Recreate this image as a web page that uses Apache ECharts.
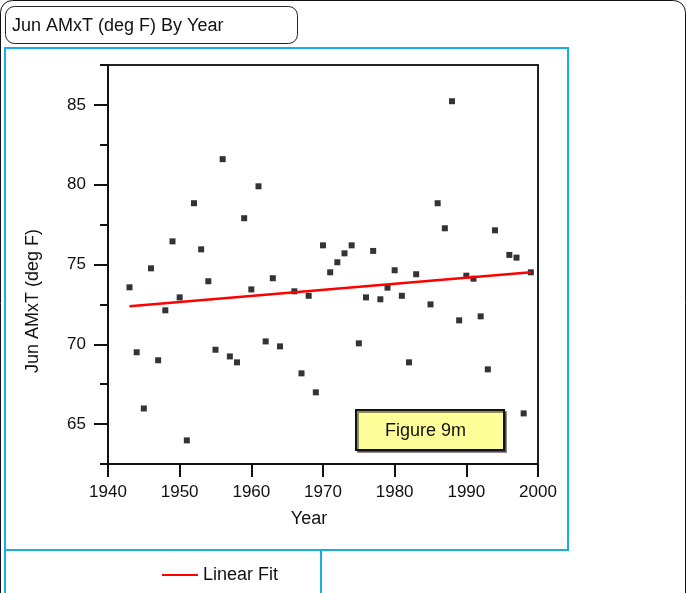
<!DOCTYPE html>
<html>
<head>
<meta charset="utf-8">
<script src="https://cdn.jsdelivr.net/npm/echarts@6/dist/echarts.min.js"></script>
<style>
  html, body { margin: 0; padding: 0; background: #fff; }
  #chart { width: 686px; height: 593px; }
</style>
</head>
<body>
<div id="chart"></div>
<script>
// ---- data ----
const years = [1943,1944,1945,1946,1947,1948,1949,1950,1951,1952,1953,1954,1955,1956,1957,1958,1959,1960,1961,1962,1963,1964,
               1966,1967,1968,1969,1970,1971,1972,1973,1974,1975,1976,1977,1978,1979,1980,1981,1982,1983,
               1985,1986,1987,1988,1989,1990,1991,1992,1993,1994,1996,1997,1998,1999];
const amxt = [73.57,69.5,65.98,74.76,69.0,72.13,76.45,72.94,63.98,78.84,75.95,73.95,69.66,81.6,69.24,68.87,77.9,73.44,79.9,70.18,74.14,69.87,
              73.32,68.18,73.04,66.99,76.2,74.51,75.14,75.7,76.2,70.06,72.94,75.85,72.82,73.55,74.64,73.04,68.87,74.39,
              72.5,78.84,77.27,85.23,71.5,74.3,74.11,71.75,68.43,77.14,75.6,75.43,65.67,74.51];
const fitYears = [1943, 1999];
const fitValues = [72.39, 74.51];
const xTicks = [1940, 1950, 1960, 1970, 1980, 1990, 2000];
const yMajorTicks = [65, 70, 75, 80, 85];

const FONT = '"Liberation Sans", Arial, sans-serif';
const INK = '#111';
const BLUE = '#1aace6';

const chart = echarts.init(document.getElementById('chart'), null, { renderer: 'canvas' });

const scatterData = years.map((y, i) => [y, amxt[i]]);
const fitData = fitYears.map((y, i) => [y, fitValues[i]]);

chart.setOption({
  animation: false,
  backgroundColor: '#fff',
  textStyle: { fontFamily: FONT },
  grid: {
    left: 108, top: 65, right: 148, bottom: 129,
    containLabel: false,
    outerBoundsMode: 'none',
    show: true, borderColor: '#222', borderWidth: 2, backgroundColor: 'transparent'
  },
  legend: {
    left: 162, top: 566, padding: 0,
    itemWidth: 36, itemHeight: 2,
    textStyle: { fontSize: 18, color: INK, fontFamily: FONT },
    data: [{ name: 'Linear Fit', icon: 'rect' }]
  },
  xAxis: {
    type: 'value', min: xTicks[0], max: xTicks[xTicks.length - 1], interval: 10,
    axisLine: { show: true, onZero: false, lineStyle: { color: INK, width: 2 } },
    axisTick: { show: true, inside: false, length: 13, lineStyle: { color: INK, width: 2 } },
    axisLabel: { margin: 20, fontSize: 17, color: INK, fontFamily: FONT, formatter: v => String(v) },
    splitLine: { show: false }
  },
  yAxis: [{
    type: 'value', min: 62.5, max: 87.5, interval: 2.5,
    axisLine: { show: true, onZero: false, lineStyle: { color: INK, width: 2 } },
    axisTick: { show: true, inside: false, length: 8, lineStyle: { color: INK, width: 2 } },
    axisLabel: { show: false },
    splitLine: { show: false }
  }, {
    type: 'value', min: 62.5, max: 87.5, interval: 2.5, position: 'left', offset: 0,
    axisLine: { show: false },
    axisTick: { show: true, inside: false, length: 14, customValues: yMajorTicks, lineStyle: { color: INK, width: 2 } },
    axisLabel: { show: true, margin: 22, fontSize: 17, color: INK, fontFamily: FONT, customValues: yMajorTicks },
    splitLine: { show: false }
  }],
  series: [{
    name: 'AMxT', type: 'scatter', symbol: 'rect', symbolSize: 6,
    itemStyle: { color: '#000' },
    data: scatterData, z: 3
  }, {
    name: 'Linear Fit', type: 'line', showSymbol: false, symbol: 'none',
    lineStyle: { color: '#ff0000', width: 2.5 },
    itemStyle: { color: '#ff0000' },
    data: fitData, z: 4
  }],
  graphic: [
    { type: 'rect', silent: true, z: -10,
      shape: { x: 0.5, y: 0.5, width: 685, height: 700, r: 12 },
      style: { fill: 'none', stroke: '#111', lineWidth: 1 } },
    { type: 'rect', silent: true,
      shape: { x: 5.5, y: 6.5, width: 292, height: 37, r: 9 },
      style: { fill: '#fff', stroke: '#222', lineWidth: 1 } },
    { type: 'text', silent: true, x: 12, y: 26,
      style: { text: 'Jun AMxT (deg F) By Year', fontSize: 18, fontFamily: FONT, fill: INK, textAlign: 'left', textVerticalAlign: 'middle' } },
    { type: 'rect', silent: true,
      shape: { x: 5, y: 48, width: 563, height: 502 },
      style: { fill: 'none', stroke: BLUE, lineWidth: 2 } },
    { type: 'rect', silent: true,
      shape: { x: 5, y: 550, width: 316, height: 60 },
      style: { fill: 'none', stroke: BLUE, lineWidth: 2 } },
    { type: 'text', silent: true, x: 33, y: 301, rotation: Math.PI / 2,
      style: { text: 'Jun AMxT (deg F)', fontSize: 18, fontFamily: FONT, fill: INK, textAlign: 'center', textVerticalAlign: 'middle' } },
    { type: 'text', silent: true, x: 309, y: 519,
      style: { text: 'Year', fontSize: 18, fontFamily: FONT, fill: INK, textAlign: 'center', textVerticalAlign: 'middle' } },
    { type: 'rect', silent: true, z: 10,
      shape: { x: 356, y: 410, width: 148, height: 40 },
      style: { fill: '#ffff99', stroke: '#111', lineWidth: 2, shadowColor: 'rgba(0,0,0,0.45)', shadowOffsetX: 2, shadowOffsetY: 2, shadowBlur: 0 } },
    { type: 'text', silent: true, z: 11, x: 385, y: 431,
      style: { text: 'Figure 9m', fontSize: 18, fontFamily: FONT, fill: INK, textAlign: 'left', textVerticalAlign: 'middle' } }
  ]
});
</script>
</body>
</html>
